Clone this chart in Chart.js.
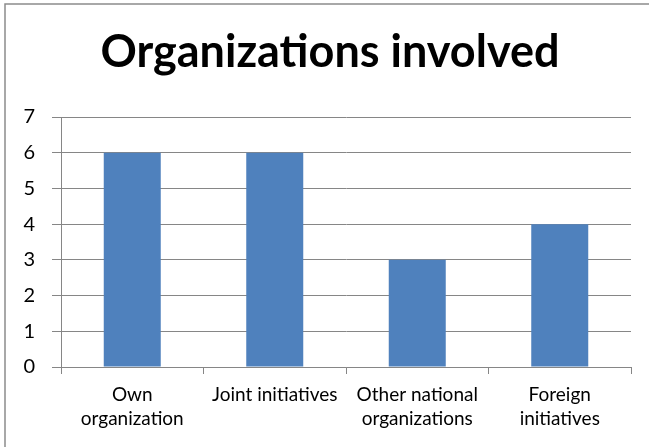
<!doctype html>
<html lang="en">
<head>
<meta charset="utf-8">
<title>Organizations involved</title>
<script src="https://cdn.jsdelivr.net/npm/chart.js@4.4.1/dist/chart.umd.min.js"></script>
<style>
  html, body { margin: 0; padding: 0; background: #fff; }
  #wrap { width: 649px; height: 447px; }
</style>
</head>
<body>
<div id="wrap"><canvas id="canvas" width="649" height="447"></canvas></div>
<script>
// data
var categories = [['Own', 'organization'], ['Joint initiatives'], ['Other national', 'organizations'], ['Foreign', 'initiatives']];
var counts = [6, 6, 3, 4];
var yTicks = [0, 1, 2, 3, 4, 5, 6, 7];

var gray = '#868686';
var font = 'Lato, "Open Sans", sans-serif';

// thin gray frame, only left and top edges are visible in the picture;
// also nudge the title a little to the right like in the original
var frame = {
    id: 'frame',
    afterLayout: function(chart) {
        if (chart.titleBlock) {
            chart.titleBlock.left = 29;
            chart.titleBlock.right = chart.width - 18;
        }
    },
    beforeDraw: function(chart) {
        var ctx = chart.ctx;
        ctx.save();
        ctx.fillStyle = '#fff';
        ctx.fillRect(0, 0, chart.width, chart.height);
        ctx.strokeStyle = '#8c8c8c';
        ctx.lineWidth = 1.5;
        ctx.beginPath();
        ctx.moveTo(5, chart.height);
        ctx.lineTo(5, 4);
        ctx.lineTo(chart.width, 4);
        ctx.stroke();
        ctx.restore();
    }
};

var config = {
    type: 'bar',
    data: {
        labels: categories,
        datasets: [{
            label: 'Organizations involved',
            data: counts,
            backgroundColor: '#4F81BD',
            borderWidth: 0,
            categoryPercentage: 1.0,
            barPercentage: 0.4
        }]
    },
    options: {
        responsive: false,
        animation: false,
        devicePixelRatio: 1,
        layout: { padding: { left: 0, right: 18, top: 0, bottom: 0 } },
        plugins: {
            legend: { display: false },
            tooltip: { enabled: false },
            title: {
                display: true,
                text: 'Organizations involved',
                color: '#000',
                font: { family: font, size: 45, weight: 'bold', lineHeight: 1.2 },
                padding: { top: 25, bottom: 38 }
            }
        },
        scales: {
            x: {
                grid: {
                    display: true,
                    drawOnChartArea: false,
                    drawTicks: true,
                    tickLength: 7,
                    color: gray,
                    offset: true
                },
                border: { display: true, color: gray, width: 1 },
                ticks: {
                    color: '#000',
                    padding: 9,
                    maxRotation: 0,
                    autoSkip: false,
                    font: { family: font, size: 19, lineHeight: 1.26 }
                },
                afterFit: function(scale) { scale.height = 80; }
            },
            y: {
                min: 0,
                max: 7,
                afterBuildTicks: function(scale) {
                    scale.ticks = yTicks.map(function(v) { return { value: v }; });
                },
                grid: {
                    color: gray,
                    drawTicks: true,
                    tickLength: 9
                },
                border: { display: true, color: gray, width: 1 },
                ticks: {
                    color: '#000',
                    padding: 17,
                    font: { family: font, size: 20 }
                },
                afterFit: function(scale) { scale.width = 61; }
            }
        }
    },
    plugins: [frame]
};

window.onload = function() {
    window.myBar = new Chart(document.getElementById('canvas'), config);
};
</script>
</body>
</html>
